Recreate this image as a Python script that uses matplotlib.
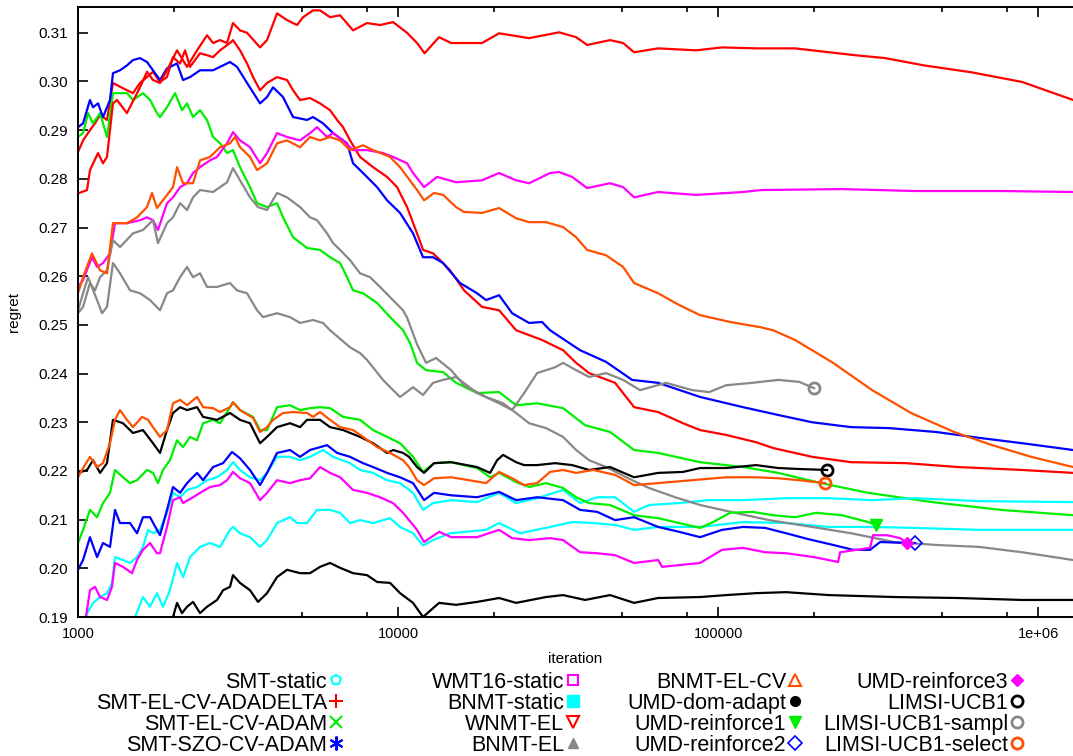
import numpy as np
import matplotlib
matplotlib.use("Agg")
import matplotlib.pyplot as plt
from matplotlib.lines import Line2D
from matplotlib.ticker import FixedLocator, FixedFormatter, LogLocator, NullFormatter, FormatStrFormatter

plt.rcParams['font.family'] = ['Liberation Sans', 'DejaVu Sans']

# (iteration, regret)
smt_static = [(1507, 0.1900), (1596, 0.1941), (1679, 0.1921), (1765, 0.1949), (1843, 0.1921), (1938, 0.1955),
              (2039, 0.2011), (2129, 0.1982), (2239, 0.2023), (2406, 0.2044), (2585, 0.2052), (2779, 0.2044),
              (2985, 0.2079), (3050, 0.2085), (3208, 0.2072), (3447, 0.2064), (3705, 0.2044), (3896, 0.2058),
              (4187, 0.2093), (4597, 0.2105), (4836, 0.2093), (5195, 0.2093), (5583, 0.2120), (6131, 0.2120),
              (6590, 0.2114), (7079, 0.2093), (7607, 0.2099), (8354, 0.2093), (9441, 0.2103), (10145, 0.2085),
              (11140, 0.2072), (11970, 0.2047), (12864, 0.2058), (14540, 0.2072), (18836, 0.2079), (20690, 0.2093),
              (24060, 0.2072), (29850, 0.2085), (34990, 0.2095), (40690, 0.2093), (47660, 0.2089), (54650, 0.2079),
              (64940, 0.2085), (87860, 0.2085), (119700, 0.2095), (163200, 0.2093), (222300, 0.2085),
              (302900, 0.2085), (412600, 0.2083), (654100, 0.2079), (1286000, 0.2079)]

smt_adadelta = [(1000, 0.2855), (1037, 0.2879), (1090, 0.2900), (1130, 0.2914), (1172, 0.2931), (1232, 0.2921),
                (1286, 0.2997), (1382, 0.2986), (1485, 0.2976), (1562, 0.2997), (1643, 0.3009), (1715, 0.3020),
                (1804, 0.2999), (1897, 0.3009), (1981, 0.3050), (2084, 0.3037), (2160, 0.3064), (2239, 0.3030),
                (2406, 0.3058), (2530, 0.3054), (2642, 0.3050), (2779, 0.3064), (2985, 0.3079), (3050, 0.3085),
                (3208, 0.3064), (3374, 0.3037), (3524, 0.3009), (3705, 0.2982), (3896, 0.2997), (4187, 0.3009),
                (4500, 0.3003), (4698, 0.2982), (4941, 0.2962), (5309, 0.2966), (5705, 0.2955), (6131, 0.2941),
                (6450, 0.2921), (6734, 0.2906), (7079, 0.2879), (7607, 0.2845), (8354, 0.2824), (9240, 0.2804),
                (9929, 0.2783), (10670, 0.2742), (11466, 0.2688), (11970, 0.2654), (12864, 0.2647), (13825, 0.2627),
                (14540, 0.2612), (16080, 0.2571), (18300, 0.2537), (20690, 0.2530), (23380, 0.2489),
                (28180, 0.2469), (32780, 0.2448), (36010, 0.2422), (39540, 0.2401), (47660, 0.2381),
                (54650, 0.2331), (64940, 0.2321), (77700, 0.2298), (87860, 0.2284), (105900, 0.2274),
                (131500, 0.2259), (148600, 0.2247), (196700, 0.2229), (260400, 0.2218), (386800, 0.2216),
                (562300, 0.2208), (891300, 0.2202), (1286000, 0.2196)]

smt_adam = [(1000, 0.2886), (1037, 0.2894), (1075, 0.2935), (1114, 0.2914), (1172, 0.2935), (1232, 0.2886),
            (1286, 0.2976), (1422, 0.2976), (1485, 0.2962), (1596, 0.2976), (1679, 0.2962), (1765, 0.2935),
            (1804, 0.2927), (1897, 0.2947), (2010, 0.2976), (2113, 0.2941), (2191, 0.2955), (2288, 0.2927),
            (2406, 0.2941), (2530, 0.2921), (2642, 0.2886), (2779, 0.2873), (2922, 0.2853), (3050, 0.2859),
            (3208, 0.2824), (3447, 0.2783), (3626, 0.2750), (3896, 0.2742), (4187, 0.2750), (4372, 0.2721),
            (4698, 0.2680), (5195, 0.2658), (5705, 0.2654), (6131, 0.2639), (6590, 0.2627), (6930, 0.2598),
            (7234, 0.2571), (7774, 0.2565), (8600, 0.2545), (9441, 0.2516), (10366, 0.2489), (10902, 0.2463),
            (11466, 0.2422), (12232, 0.2407), (13825, 0.2403), (15180, 0.2381), (17655, 0.2360),
            (20690, 0.2362), (23380, 0.2335), (27200, 0.2339), (32780, 0.2329), (38410, 0.2294),
            (45970, 0.2280), (54650, 0.2243), (64940, 0.2237), (87860, 0.2218), (119700, 0.2208),
            (154000, 0.2196), (209800, 0.2175), (294400, 0.2155), (466600, 0.2136), (766300, 0.2120),
            (1286000, 0.2109)]

smt_szo = [(1000, 0.2906), (1037, 0.2914), (1090, 0.2962), (1114, 0.2947), (1155, 0.2955), (1197, 0.2927),
           (1259, 0.2962), (1286, 0.3017), (1353, 0.3023), (1422, 0.3033), (1485, 0.3044), (1562, 0.3048),
           (1643, 0.3040), (1715, 0.3023), (1804, 0.3003), (1897, 0.3027), (2039, 0.3037), (2129, 0.3003),
           (2239, 0.3009), (2406, 0.3023), (2642, 0.3023), (2779, 0.3030), (2985, 0.3040), (3140, 0.3030),
           (3374, 0.2997), (3705, 0.2955), (3896, 0.2968), (4068, 0.2988), (4372, 0.2968), (4698, 0.2927),
           (5195, 0.2921), (5425, 0.2927), (5829, 0.2914), (6265, 0.2894), (6930, 0.2873), (7234, 0.2832),
           (7774, 0.2812), (8600, 0.2783), (9240, 0.2756), (10145, 0.2730), (11140, 0.2688), (11970, 0.2639),
           (12864, 0.2639), (13825, 0.2627), (15623, 0.2586), (17655, 0.2565), (18836, 0.2551),
           (20690, 0.2561), (22720, 0.2524), (25670, 0.2504), (28180, 0.2506), (29850, 0.2489),
           (37060, 0.2448), (44670, 0.2424), (53870, 0.2387), (64940, 0.2381), (87860, 0.2352),
           (119700, 0.2331), (154000, 0.2315), (196700, 0.2300), (260400, 0.2290), (342300, 0.2288),
           (480300, 0.2280), (654100, 0.2268), (891300, 0.2257), (1286000, 0.2243)]

wmt16_static = [(1000, 0.2578), (1037, 0.2592), (1106, 0.2639), (1147, 0.2619), (1197, 0.2627), (1259, 0.2647),
                (1305, 0.2709), (1422, 0.2709), (1562, 0.2715), (1643, 0.2721), (1715, 0.2715), (1778, 0.2695),
                (1897, 0.2750), (1981, 0.2762), (2084, 0.2783), (2191, 0.2791), (2288, 0.2812), (2406, 0.2824),
                (2585, 0.2838), (2719, 0.2845), (2922, 0.2873), (3050, 0.2896), (3208, 0.2879), (3447, 0.2865),
                (3705, 0.2832), (3896, 0.2853), (4187, 0.2894), (4500, 0.2886), (4941, 0.2879), (5309, 0.2894),
                (5583, 0.2906), (6000, 0.2886), (6265, 0.2894), (6734, 0.2879), (7234, 0.2859), (8000, 0.2859),
                (8977, 0.2853), (9647, 0.2845), (10670, 0.2832), (11140, 0.2812), (12057, 0.2783),
                (13241, 0.2804), (15180, 0.2793), (18300, 0.2797), (20690, 0.2812), (23380, 0.2797),
                (25670, 0.2791), (29850, 0.2812), (31850, 0.2814), (34990, 0.2804), (38970, 0.2781),
                (45970, 0.2791), (50480, 0.2783), (54650, 0.2762), (64940, 0.2773), (85370, 0.2767),
                (119700, 0.2773), (136300, 0.2777), (244100, 0.2779), (412600, 0.2775), (766300, 0.2775),
                (1286000, 0.2773)]

bnmt_static = [(1052, 0.1900), (1114, 0.1929), (1172, 0.1941), (1232, 0.1949), (1277, 0.1970), (1305, 0.2023),
               (1382, 0.2017), (1454, 0.2011), (1529, 0.2023), (1596, 0.2044), (1655, 0.2079), (1715, 0.2072),
               (1804, 0.2079), (1897, 0.2114), (1981, 0.2155), (2084, 0.2146), (2191, 0.2161), (2355, 0.2167),
               (2530, 0.2181), (2719, 0.2187), (2922, 0.2202), (3050, 0.2218), (3208, 0.2202), (3447, 0.2187),
               (3705, 0.2181), (3896, 0.2196), (4187, 0.2229), (4597, 0.2229), (4941, 0.2222), (5309, 0.2229),
               (5829, 0.2243), (6265, 0.2229), (7079, 0.2216), (7607, 0.2202), (8354, 0.2196), (9240, 0.2181),
               (10145, 0.2175), (11140, 0.2155), (11970, 0.2120), (12864, 0.2134), (14645, 0.2140),
               (17655, 0.2136), (20690, 0.2155), (23380, 0.2134), (27200, 0.2144), (32780, 0.2161),
               (37060, 0.2134), (41880, 0.2146), (47660, 0.2146), (54650, 0.2116), (60860, 0.2130),
               (75510, 0.2134), (93740, 0.2140), (119700, 0.2140), (163200, 0.2144), (222300, 0.2144),
               (302900, 0.2140), (412600, 0.2144), (654100, 0.2138), (1286000, 0.2136)]

wnmt_el = [(1000, 0.2770), (1067, 0.2777), (1090, 0.2818), (1155, 0.2853), (1197, 0.2832), (1232, 0.2845),
           (1286, 0.2955), (1324, 0.2962), (1422, 0.2935), (1562, 0.2988), (1643, 0.3020), (1715, 0.3003),
           (1804, 0.2997), (1897, 0.3023), (2039, 0.3064), (2191, 0.3030), (2355, 0.3064), (2530, 0.3095),
           (2642, 0.3079), (2779, 0.3085), (2922, 0.3079), (3050, 0.3120), (3208, 0.3105), (3374, 0.3100),
           (3705, 0.3070), (3896, 0.3085), (4187, 0.3140), (4500, 0.3126), (4836, 0.3116), (5048, 0.3132),
           (5425, 0.3146), (5705, 0.3146), (6131, 0.3132), (6590, 0.3136), (7234, 0.3105), (8000, 0.3120),
           (8785, 0.3116), (9647, 0.3122), (10670, 0.3100), (11466, 0.3079), (12100, 0.3058), (13434, 0.3091),
           (14645, 0.3079), (18300, 0.3079), (20690, 0.3099), (25670, 0.3089), (31850, 0.3101),
           (36010, 0.3091), (38970, 0.3075), (45970, 0.3085), (50480, 0.3079), (54650, 0.3060),
           (64940, 0.3068), (85370, 0.3064), (102900, 0.3070), (131500, 0.3068), (174000, 0.3068),
           (222300, 0.3060), (268000, 0.3054), (332700, 0.3048), (440300, 0.3033), (617400, 0.3019),
           (891300, 0.2999), (1286000, 0.2962)]

bnmt_el = [(1000, 0.2524), (1037, 0.2537), (1090, 0.2586), (1130, 0.2571), (1172, 0.2598), (1232, 0.2612),
           (1286, 0.2674), (1353, 0.2660), (1485, 0.2688), (1596, 0.2695), (1715, 0.2715), (1778, 0.2668),
           (1897, 0.2709), (1981, 0.2721), (2084, 0.2750), (2191, 0.2736), (2288, 0.2762), (2406, 0.2777),
           (2642, 0.2773), (2779, 0.2783), (2922, 0.2793), (3050, 0.2822), (3208, 0.2797), (3447, 0.2762),
           (3652, 0.2742), (3896, 0.2736), (4187, 0.2771), (4500, 0.2762), (4941, 0.2742), (5309, 0.2721),
           (5583, 0.2715), (6000, 0.2688), (6265, 0.2668), (6590, 0.2654), (7079, 0.2633), (7607, 0.2606),
           (8175, 0.2598), (8785, 0.2578), (9441, 0.2557), (10366, 0.2530), (10670, 0.2515), (11466, 0.2460),
           (12232, 0.2422), (13146, 0.2432), (14645, 0.2407), (16080, 0.2376), (18836, 0.2352),
           (21290, 0.2339), (23380, 0.2319), (25670, 0.2298), (29000, 0.2288), (32780, 0.2270),
           (36010, 0.2243), (39540, 0.2222), (44670, 0.2208), (53870, 0.2181), (60860, 0.2165),
           (73370, 0.2146), (87860, 0.2130), (113000, 0.2114), (144300, 0.2099), (196700, 0.2085),
           (260400, 0.2072), (354800, 0.2054), (480300, 0.2048), (654100, 0.2044), (891300, 0.2033),
           (1286000, 0.2017)]

bnmt_el_cv = [(1000, 0.2565), (1037, 0.2598), (1106, 0.2647), (1172, 0.2612), (1232, 0.2606), (1286, 0.2709),
              (1422, 0.2709), (1529, 0.2721), (1643, 0.2742), (1703, 0.2771), (1765, 0.2740), (1843, 0.2756),
              (1981, 0.2783), (2039, 0.2824), (2129, 0.2791), (2288, 0.2791), (2406, 0.2838), (2585, 0.2845),
              (2779, 0.2865), (2985, 0.2873), (3094, 0.2886), (3208, 0.2865), (3447, 0.2845), (3626, 0.2818),
              (3896, 0.2832), (4187, 0.2873), (4500, 0.2879), (4941, 0.2865), (5309, 0.2886), (5705, 0.2879),
              (6131, 0.2886), (6590, 0.2879), (7079, 0.2859), (7774, 0.2869), (8354, 0.2859), (9441, 0.2845),
              (10145, 0.2824), (11466, 0.2777), (12057, 0.2756), (12957, 0.2771), (13825, 0.2767),
              (15180, 0.2742), (16080, 0.2732), (18300, 0.2730), (20690, 0.2740), (23380, 0.2719),
              (25670, 0.2711), (29000, 0.2711), (32780, 0.2701), (36010, 0.2680), (38970, 0.2654),
              (44670, 0.2643), (50480, 0.2619), (54650, 0.2586), (64940, 0.2565), (75510, 0.2541),
              (87860, 0.2520), (109000, 0.2506), (136300, 0.2495), (148600, 0.2489), (174000, 0.2469),
              (196700, 0.2448), (228800, 0.2422), (302900, 0.2366), (400900, 0.2319), (546500, 0.2280),
              (718500, 0.2253), (951000, 0.2229), (1286000, 0.2208)]

umd_dom_adapt = [(1981, 0.1900), (2039, 0.1929), (2113, 0.1908), (2191, 0.1921), (2288, 0.1931), (2406, 0.1908),
                 (2530, 0.1921), (2719, 0.1935), (2840, 0.1955), (2985, 0.1962), (3050, 0.1986), (3208, 0.1970),
                 (3447, 0.1955), (3652, 0.1931), (3896, 0.1949), (4187, 0.1982), (4500, 0.1997), (4941, 0.1990),
                 (5309, 0.1990), (5705, 0.2003), (6131, 0.2011), (6590, 0.2001), (7234, 0.1990), (8000, 0.1986),
                 (8600, 0.1972), (9441, 0.1970), (10145, 0.1949), (11140, 0.1929), (11970, 0.1900),
                 (13434, 0.1929), (15180, 0.1925), (17655, 0.1931), (20690, 0.1939), (23380, 0.1929),
                 (29000, 0.1941), (32780, 0.1945), (38410, 0.1935), (45970, 0.1945), (54650, 0.1929),
                 (64940, 0.1939), (87860, 0.1941), (105900, 0.1945), (131500, 0.1949), (163200, 0.1951),
                 (222300, 0.1945), (354800, 0.1941), (562300, 0.1939), (891300, 0.1935), (1286000, 0.1935)]

umd_reinforce1 = [(1000, 0.2052), (1037, 0.2079), (1090, 0.2120), (1147, 0.2105), (1197, 0.2134), (1259, 0.2155),
                  (1305, 0.2202), (1382, 0.2187), (1454, 0.2175), (1529, 0.2181), (1643, 0.2202), (1715, 0.2196),
                  (1778, 0.2175), (1843, 0.2202), (1938, 0.2222), (2039, 0.2263), (2129, 0.2249), (2239, 0.2270),
                  (2355, 0.2263), (2459, 0.2298), (2642, 0.2305), (2779, 0.2298), (3050, 0.2341), (3208, 0.2325),
                  (3524, 0.2311), (3705, 0.2284), (3896, 0.2284), (4187, 0.2331), (4597, 0.2335), (4941, 0.2325),
                  (5309, 0.2329), (5705, 0.2331), (6131, 0.2329), (6734, 0.2311), (7607, 0.2305), (8354, 0.2284),
                  (9240, 0.2270), (10145, 0.2257), (11140, 0.2229), (11970, 0.2198), (12957, 0.2216),
                  (14645, 0.2218), (17655, 0.2206), (19390, 0.2187), (20690, 0.2196), (23380, 0.2177),
                  (25670, 0.2167), (29000, 0.2175), (32780, 0.2165), (36010, 0.2146), (39540, 0.2134),
                  (45970, 0.2130), (54650, 0.2109), (64940, 0.2103), (75510, 0.2093), (87860, 0.2083),
                  (96470, 0.2095), (109000, 0.2114), (127800, 0.2116), (148600, 0.2109), (174000, 0.2105),
                  (202400, 0.2114), (244100, 0.2109), (294400, 0.2095), (311800, 0.2089)]

umd_reinforce2 = [(1000, 0.1997), (1037, 0.2017), (1090, 0.2064), (1147, 0.2023), (1197, 0.2052), (1259, 0.2044),
                  (1305, 0.2120), (1353, 0.2093), (1454, 0.2093), (1529, 0.2072), (1596, 0.2105), (1679, 0.2105),
                  (1765, 0.2079), (1804, 0.2068), (1897, 0.2120), (1981, 0.2167), (2084, 0.2155), (2191, 0.2175),
                  (2355, 0.2196), (2459, 0.2181), (2642, 0.2208), (2840, 0.2216), (3029, 0.2239), (3208, 0.2226),
                  (3447, 0.2202), (3705, 0.2171), (3896, 0.2196), (4187, 0.2237), (4597, 0.2243), (4941, 0.2229),
                  (5309, 0.2243), (6000, 0.2253), (6450, 0.2237), (7079, 0.2229), (7774, 0.2216), (8354, 0.2208),
                  (9240, 0.2196), (10145, 0.2187), (11140, 0.2175), (12057, 0.2140), (12957, 0.2155),
                  (14645, 0.2150), (17655, 0.2146), (20690, 0.2157), (23380, 0.2140), (27200, 0.2146),
                  (32780, 0.2140), (37060, 0.2120), (41880, 0.2116), (47660, 0.2099), (54650, 0.2105),
                  (64940, 0.2085), (75510, 0.2075), (87860, 0.2064), (102900, 0.2079), (119700, 0.2085),
                  (140300, 0.2083), (163200, 0.2072), (191100, 0.2060), (228800, 0.2048), (264200, 0.2038),
                  (298500, 0.2038), (320800, 0.2054), (389600, 0.2052), (412600, 0.2052)]

umd_reinforce3 = [(1059, 0.1900), (1090, 0.1955), (1130, 0.1962), (1172, 0.1941), (1232, 0.1935), (1277, 0.1962),
                  (1305, 0.2011), (1382, 0.2003), (1475, 0.1990), (1529, 0.2017), (1596, 0.2038), (1679, 0.2052),
                  (1765, 0.2031), (1804, 0.2031), (1897, 0.2085), (1981, 0.2140), (2084, 0.2146), (2129, 0.2134),
                  (2288, 0.2146), (2406, 0.2155), (2585, 0.2167), (2779, 0.2171), (2922, 0.2181), (3050, 0.2198),
                  (3208, 0.2185), (3447, 0.2175), (3705, 0.2140), (3896, 0.2155), (4187, 0.2181), (4597, 0.2175),
                  (4941, 0.2181), (5309, 0.2185), (5705, 0.2208), (6131, 0.2196), (6590, 0.2187), (7234, 0.2161),
                  (8000, 0.2155), (8785, 0.2146), (9647, 0.2134), (10366, 0.2114), (11466, 0.2079),
                  (12057, 0.2054), (13434, 0.2075), (14645, 0.2064), (17655, 0.2064), (20690, 0.2079),
                  (22720, 0.2062), (25670, 0.2058), (29850, 0.2062), (32780, 0.2058), (37060, 0.2033),
                  (41880, 0.2031), (47660, 0.2027), (54650, 0.2011), (64940, 0.2017), (66830, 0.2003),
                  (87860, 0.2011), (102900, 0.2038), (119700, 0.2042), (140300, 0.2033), (163200, 0.2031),
                  (199500, 0.2023), (237100, 0.2013), (240600, 0.2033), (298500, 0.2042), (305000, 0.2068),
                  (337300, 0.2068), (370400, 0.2062), (389600, 0.2052)]

limsi_ucb1 = [(1000, 0.2196), (1067, 0.2202), (1114, 0.2222), (1172, 0.2196), (1232, 0.2216), (1286, 0.2305),
              (1382, 0.2298), (1485, 0.2278), (1596, 0.2284), (1715, 0.2257), (1804, 0.2237), (1897, 0.2284),
              (1981, 0.2319), (2084, 0.2331), (2191, 0.2325), (2355, 0.2331), (2459, 0.2311), (2719, 0.2305),
              (2985, 0.2319), (3208, 0.2305), (3447, 0.2298), (3705, 0.2257), (3896, 0.2270), (4187, 0.2290),
              (4597, 0.2298), (4941, 0.2290), (5195, 0.2305), (5705, 0.2305), (6131, 0.2290), (6734, 0.2284),
              (7607, 0.2270), (8354, 0.2257), (9240, 0.2237), (9647, 0.2243), (10366, 0.2237), (10824, 0.2229),
              (11466, 0.2208), (12057, 0.2196), (12957, 0.2216), (14645, 0.2218), (17655, 0.2208),
              (19390, 0.2196), (20390, 0.2222), (21290, 0.2233), (23380, 0.2218), (24770, 0.2212),
              (27200, 0.2212), (30950, 0.2216), (34990, 0.2212), (39540, 0.2202), (45970, 0.2208),
              (54650, 0.2187), (64940, 0.2196), (77700, 0.2198), (87860, 0.2206), (105900, 0.2206),
              (131500, 0.2212), (154000, 0.2206), (179200, 0.2204), (219100, 0.2202)]

limsi_sampl = [(1000, 0.2530), (1037, 0.2565), (1075, 0.2598), (1147, 0.2551), (1189, 0.2524), (1232, 0.2537),
               (1286, 0.2627), (1353, 0.2606), (1454, 0.2571), (1562, 0.2565), (1679, 0.2551), (1804, 0.2530),
               (1897, 0.2565), (1981, 0.2571), (2084, 0.2598), (2191, 0.2619), (2288, 0.2598), (2406, 0.2606),
               (2530, 0.2578), (2719, 0.2578), (2985, 0.2586), (3140, 0.2571), (3374, 0.2565), (3626, 0.2530),
               (3786, 0.2516), (4187, 0.2524), (4597, 0.2516), (4941, 0.2504), (5425, 0.2510), (5829, 0.2504),
               (6131, 0.2489), (7079, 0.2454), (7607, 0.2442), (8000, 0.2428), (8977, 0.2387), (9647, 0.2366),
               (10145, 0.2352), (11140, 0.2372), (11970, 0.2356), (12864, 0.2381), (13825, 0.2387),
               (15180, 0.2393), (17655, 0.2360), (20690, 0.2339), (22720, 0.2325), (24770, 0.2360),
               (27200, 0.2401), (30950, 0.2413), (32780, 0.2422), (36010, 0.2407), (39540, 0.2393),
               (44670, 0.2401), (50480, 0.2387), (57060, 0.2366), (68790, 0.2381), (82960, 0.2366),
               (93740, 0.2362), (105900, 0.2376), (127800, 0.2381), (154000, 0.2387), (179200, 0.2383),
               (199500, 0.2370)]

limsi_select = [(1000, 0.2187), (1029, 0.2202), (1090, 0.2229), (1147, 0.2208), (1197, 0.2216), (1259, 0.2257),
                (1305, 0.2305), (1353, 0.2325), (1422, 0.2305), (1485, 0.2290), (1585, 0.2311), (1655, 0.2305),
                (1715, 0.2290), (1804, 0.2270), (1897, 0.2284), (1981, 0.2339), (2084, 0.2346), (2191, 0.2335),
                (2355, 0.2352), (2459, 0.2331), (2642, 0.2329), (2779, 0.2321), (2985, 0.2331), (3050, 0.2341),
                (3208, 0.2325), (3524, 0.2309), (3705, 0.2280), (3896, 0.2290), (4068, 0.2305), (4372, 0.2319),
                (4698, 0.2321), (5195, 0.2319), (5425, 0.2311), (5705, 0.2321), (6131, 0.2305), (6590, 0.2290),
                (7234, 0.2284), (7774, 0.2270), (8600, 0.2249), (9441, 0.2237), (10366, 0.2222), (10824, 0.2208),
                (11466, 0.2181), (12057, 0.2171), (12957, 0.2185), (14645, 0.2187), (16670, 0.2181),
                (18836, 0.2175), (20690, 0.2198), (22720, 0.2185), (24770, 0.2171), (27200, 0.2175),
                (29850, 0.2198), (32780, 0.2202), (36010, 0.2196), (40690, 0.2202), (47660, 0.2192),
                (54650, 0.2171), (64940, 0.2175), (82960, 0.2181), (105900, 0.2187), (131500, 0.2187),
                (154000, 0.2185), (179200, 0.2181), (216000, 0.2175)]

# name, data, colour, marker style
CYAN, RED, GREEN, BLUE = '#00ffff', '#ff0000', '#00ee00', '#0000ff'
MAG, GRAY, ORANGE, BLACK = '#ff00ff', '#888888', '#ff5000', '#000000'
series = [
    ("SMT-static", smt_static, CYAN, dict(marker='p', mfc='none', ms=7, mew=1.5)),
    ("SMT-EL-CV-ADADELTA", smt_adadelta, RED, dict(marker='+', ms=10, mew=1.5)),
    ("SMT-EL-CV-ADAM", smt_adam, GREEN, dict(marker='x', ms=8, mew=1.5)),
    ("SMT-SZO-CV-ADAM", smt_szo, BLUE, dict(marker=(6, 2, 0), ms=10, mew=1.5)),
    ("WMT16-static", wmt16_static, MAG, dict(marker='s', mfc='none', ms=7, mew=1.5)),
    ("BNMT-static", bnmt_static, CYAN, dict(marker='s', ms=8)),
    ("WNMT-EL", wnmt_el, RED, dict(marker='v', mfc='none', ms=8, mew=1.5)),
    ("BNMT-EL", bnmt_el, GRAY, dict(marker='^', ms=7)),
    ("BNMT-EL-CV", bnmt_el_cv, ORANGE, dict(marker='^', mfc='none', ms=8, mew=1.5)),
    ("UMD-dom-adapt", umd_dom_adapt, BLACK, dict(marker='o', ms=7)),
    ("UMD-reinforce1", umd_reinforce1, GREEN, dict(marker='v', ms=8)),
    ("UMD-reinforce2", umd_reinforce2, BLUE, dict(marker='D', mfc='none', ms=7, mew=1.2)),
    ("UMD-reinforce3", umd_reinforce3, MAG, dict(marker='D', ms=6)),
    ("LIMSI-UCB1", limsi_ucb1, BLACK, dict(marker='o', mfc='none', ms=8, mew=2)),
    ("LIMSI-UCB1-sampl", limsi_sampl, GRAY, dict(marker='o', mfc='none', ms=8, mew=2)),
    ("LIMSI-UCB1-select", limsi_select, ORANGE, dict(marker='o', mfc='none', ms=8, mew=2)),
]

XMIN, XMAX = 1000, 1.285e6
YMIN, YMAX = 0.19, 0.3153

W, H = 1073, 756
fig = plt.figure(figsize=(W / 100, H / 100), dpi=100)
ax = fig.add_axes([78 / W, 139 / H, 995 / W, 610 / H])

for name, data, color, mk in series:
    xs, ys = np.array(data).T
    ax.plot(xs, ys, color=color, lw=1.6)
    if xs[-1] < XMAX:
        ax.plot(xs[-1:], ys[-1:], ls='none', color=color, **mk)

ax.set_xscale('log')
ax.set_xlim(XMIN, XMAX)
ax.set_ylim(YMIN, YMAX)

ax.xaxis.set_major_locator(FixedLocator([1e3, 1e4, 1e5, 1e6]))
ax.xaxis.set_major_formatter(FixedFormatter(['1000', '10000', '100000', '1e+06']))
ax.xaxis.set_minor_locator(LogLocator(base=10, subs=(2, 5, 8)))
ax.xaxis.set_minor_formatter(NullFormatter())
ax.yaxis.set_major_locator(FixedLocator(np.arange(19, 32) / 100))
ax.yaxis.set_major_formatter(FormatStrFormatter('%.2f'))

ax.tick_params(which='both', direction='in', top=True, right=False, width=1.2)
ax.tick_params(which='major', length=7, pad=7)
ax.tick_params(which='minor', length=3.5)
ax.tick_params(axis='x', labelsize=10.5)
ax.tick_params(axis='y', labelsize=11)
for side in ('left', 'top', 'bottom'):
    ax.spines[side].set_linewidth(1.4)
ax.spines['right'].set_visible(False)

ax.set_xlabel('iteration', fontsize=11, labelpad=8)
ax.set_ylabel('regret', fontsize=11, labelpad=13)

# four legend columns, label right-aligned with the point symbol after it
col_right = [341, 578, 800, 1022]
for c in range(4):
    handles, labels = [], []
    for name, data, color, mk in series[4 * c:4 * c + 4]:
        handles.append(Line2D([], [], ls='none', color=color, **mk))
        labels.append(name)
    fig.legend(handles, labels, loc='upper right',
               bbox_to_anchor=(col_right[c] / W, 1 - 672 / H),
               bbox_transform=fig.transFigure, frameon=False, markerfirst=False,
               handlelength=0.5, handletextpad=0.15, labelspacing=0.0,
               borderpad=0, borderaxespad=0, fontsize=15.5)

fig.savefig('out.png', dpi=100)
